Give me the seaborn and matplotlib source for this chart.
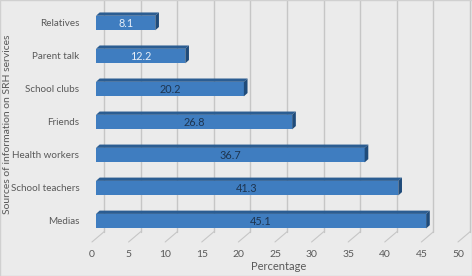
import matplotlib
matplotlib.use("Agg")
import matplotlib.pyplot as plt
import matplotlib.transforms as mtransforms
from matplotlib.patches import Polygon, Rectangle
import seaborn as sns
import pandas as pd

sources = ["Relatives", "Parent talk", "School clubs", "Friends",
           "Health workers", "School teachers", "Medias"]
percentages = [8.1, 12.2, 20.2, 26.8, 36.7, 41.3, 45.1]
x_ticks = [0, 5, 10, 15, 20, 25, 30, 35, 40, 45, 50]

df = pd.DataFrame({"source": sources, "pct": percentages})

sns.set_style("white")
plt.rcParams["font.family"] = ["Lato", "DejaVu Sans"]

bg = "#ebebeb"
face = "#3f7dc0"
top = "#2b5d92"
side = "#1f4b7a"
grid_c = "#c6c6c6"
text_c = "#595959"

fig = plt.figure(figsize=(4.72, 2.76), dpi=100, facecolor=bg)
ax = fig.add_axes([96 / 472, 36 / 276, 366 / 472, 240 / 276])
ax.set_facecolor(bg)

bar_h = 0.44
sns.barplot(data=df, x="pct", y="source", orient="h", color=face,
            width=bar_h, saturation=1, ax=ax, zorder=3, edgecolor="none")

ax.set_xlim(0, 50)
ax.set_ylim(6.6, -0.667)

# back-wall grid lines and floor diagonals (3D look)
shift = mtransforms.offset_copy(ax.transData, fig=fig, x=8, y=8, units="dots")
y_floor = ax.get_ylim()[0]
for t in x_ticks:
    ax.plot([t, t], [y_floor, -0.667 - 0.3], color=grid_c, lw=1,
            transform=shift, zorder=1, clip_on=False)
    ax.plot([t - 0.55, t + 1.1], [y_floor + 0.06, y_floor - 0.25], color=grid_c,
            lw=0.8, zorder=1, clip_on=False)

# bar top strip and right side
dx = 0.5
dy = 0.1
for i, v in enumerate(percentages):
    y0 = i - bar_h / 2 + 0.03
    y1 = i + bar_h / 2 + 0.03
    for p in ax.patches[i:i + 1]:
        p.set_y(y0)
    ax.add_patch(Polygon([(0, y0), (v, y0), (v + dx, y0 - dy), (dx, y0 - dy)],
                         closed=True, facecolor=top, edgecolor="none", zorder=4))
    ax.add_patch(Polygon([(v, y0), (v + dx, y0 - dy), (v + dx, y1 - dy), (v, y1)],
                         closed=True, facecolor=side, edgecolor="none", zorder=4))
    label_c = "#e6eef8" if v < 15 else "#1e3550"
    ax.text(v / 2, i + 0.04, f"{v}", ha="center", va="center",
            fontsize=7.8, color=label_c, zorder=5)

for s in ax.spines.values():
    s.set_visible(False)
ax.set_xticks(x_ticks)
ax.tick_params(axis="x", length=0, labelsize=7.5, colors=text_c, pad=7)
ax.tick_params(axis="y", length=0, labelsize=7.1, colors=text_c, pad=12)
tick_shift = mtransforms.ScaledTranslation(-4 / 100, 0, fig.dpi_scale_trans)
for lab in ax.get_xticklabels():
    lab.set_transform(lab.get_transform() + tick_shift)

ax.set_xlabel("Percentage", fontsize=8, color=text_c, labelpad=2)
ax.set_ylabel("")
fig.text(8 / 472, 0.55, "Sources of information on SRH services", rotation=90,
         ha="center", va="center", fontsize=7.5, color=text_c)

fig.add_artist(Rectangle((0, 0), 1, 1, transform=fig.transFigure, fill=False,
                         edgecolor="#d0d0d0", lw=1))

fig.savefig("out.png", dpi=100, facecolor=bg)
